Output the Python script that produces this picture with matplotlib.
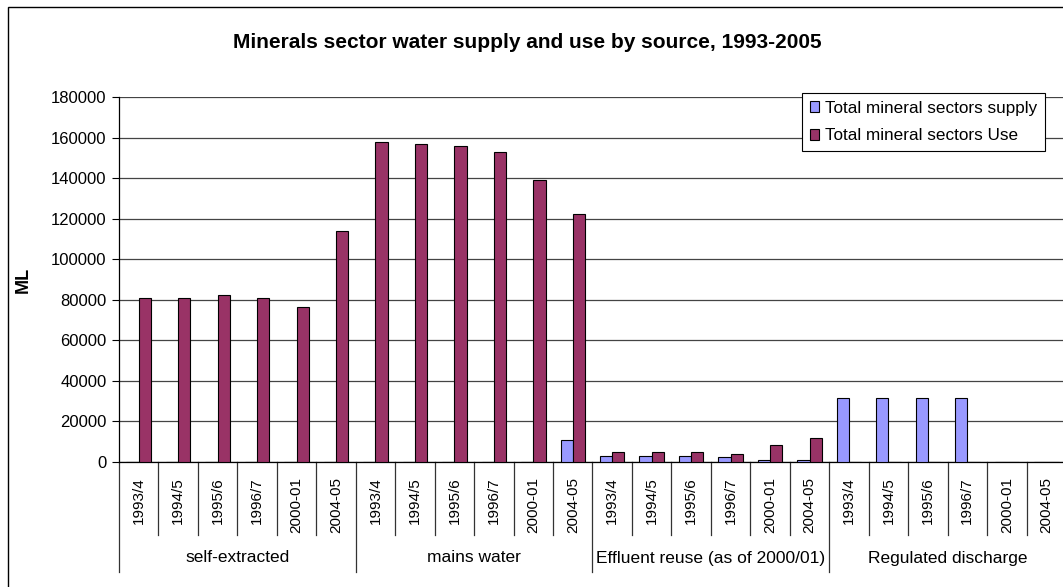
import numpy as np
import matplotlib.pyplot as plt
from matplotlib.patches import Rectangle
from matplotlib.transforms import blended_transform_factory

plt.rcParams['font.family'] = ['Liberation Sans', 'DejaVu Sans']

# water sources and the reporting years shown under each one
sources = ["self-extracted", "mains water", "Effluent reuse (as of 2000/01)", "Regulated discharge"]
years = ["1993/4", "1994/5", "1995/6", "1996/7", "2000-01", "2004-05"]

# ML per source, in the year order above
supply = [0, 0, 0, 0, 0, 0,
          0, 0, 0, 0, 0, 11000,
          3200, 3200, 3200, 2500, 800, 800,
          31500, 31500, 31500, 31500, 0, 0]
use = [81000, 81000, 82500, 81000, 76500, 114000,
       158000, 157000, 156000, 153000, 139000, 122500,
       4700, 4700, 4700, 3700, 8500, 11700,
       0, 0, 0, 0, 0, 0]

W, H = 1063, 587
fig = plt.figure(figsize=(W / 100, H / 100), dpi=100)

# outer chart border (runs off the right and bottom edge)
fig.patches.append(Rectangle((8 / W, -0.05), 1.1, 1 - 7 / H + 0.05, transform=fig.transFigure,
                             fill=False, edgecolor='black', linewidth=1.0))

left, right, top, bottom = 119, 1066, 97, 462
ax = fig.add_axes([left / W, 1 - bottom / H, (right - left) / W, (bottom - top) / H])

n = len(sources) * len(years)
x = np.arange(n)
bw = 0.31
ax.bar(x - bw / 2, supply, bw, color='#9999FF', edgecolor='black', linewidth=0.8,
       label='Total mineral sectors supply', zorder=3)
ax.bar(x + bw / 2, use, bw, color='#993366', edgecolor='black', linewidth=0.8,
       label='Total mineral sectors Use', zorder=3)

ax.set_xlim(-0.5, n - 0.5)
ax.set_ylim(0, 180000)
ax.set_yticks(np.arange(0, 180001, 20000))
ax.tick_params(axis='y', labelsize=12, length=5, width=0.8, pad=4)
ax.set_xticks([])
ax.yaxis.grid(True, color='#444444', linewidth=0.9)
ax.set_axisbelow(True)
for s in ['top', 'right']:
    ax.spines[s].set_visible(False)
ax.spines['left'].set_linewidth(0.9)
ax.spines['bottom'].set_linewidth(0.9)

ax.set_ylabel('ML', fontsize=13, fontweight='bold', labelpad=0)
ax.yaxis.set_label_coords(-(left - 32) / (right - left), 0.5)

# two-level category axis: years, then sources
trans = blended_transform_factory(ax.transData, ax.transAxes)
span = bottom - top
y_lab = -(477 - bottom) / span
y_inner = -(535 - bottom) / span
y_outer = -(572 - bottom) / span
y_group = -(558 - bottom) / span

for i in range(n):
    ax.text(i, y_lab, years[i % len(years)], rotation=90, ha='center', va='top',
            fontsize=11, transform=trans)
for b in range(n + 1):
    low = y_outer if b % len(years) == 0 else y_inner
    ax.plot([b - 0.5, b - 0.5], [0, low], color='#333333', linewidth=0.9,
            transform=trans, clip_on=False)
for g, name in enumerate(sources):
    cx = g * len(years) + (len(years) - 1) / 2
    ax.text(cx, y_group, name, ha='center', va='center', fontsize=12.5, transform=trans)

leg = ax.legend(loc='upper right', bbox_to_anchor=((1045 - left) / (right - left), 1 + (top - 93) / span),
                fontsize=12.3, frameon=True, fancybox=False, edgecolor='black',
                handlelength=0.55, handleheight=0.55, handletextpad=0.35,
                borderpad=0.45, labelspacing=0.75, borderaxespad=0)
leg.get_frame().set_linewidth(0.8)
leg.get_frame().set_alpha(1)

fig.text(527 / W, 1 - 42 / H, 'Minerals sector water supply and use by source, 1993-2005',
         ha='center', va='center', fontsize=15, fontweight='bold')

fig.savefig('out.png', dpi=100)
